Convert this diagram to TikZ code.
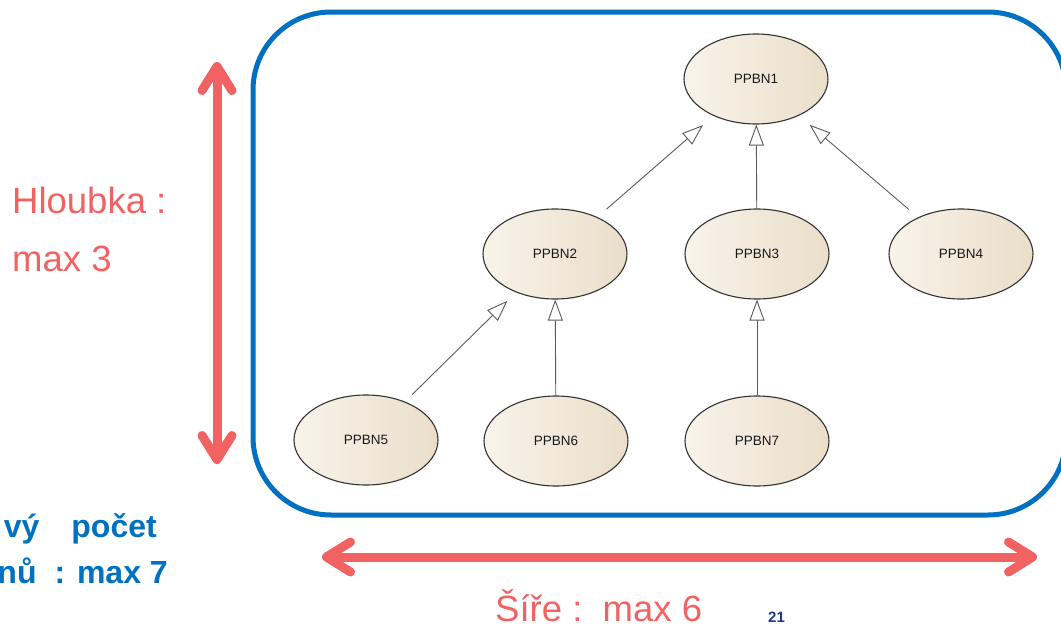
\documentclass[tikz,border=0pt]{standalone}
\usepackage{fontspec}
\setmainfont{Liberation Sans}
\usetikzlibrary{shapes.geometric,arrows.meta}
\definecolor{redc}{RGB}{242,98,98}
\definecolor{boxblue}{RGB}{0,112,192}
\definecolor{numblue}{RGB}{31,56,140}
\definecolor{ellA}{RGB}{248,243,234}
\definecolor{ellB}{RGB}{234,222,202}
\definecolor{ellD}{RGB}{50,50,50}
\begin{document}
\begin{tikzpicture}[x=1pt,y=-1pt,
  ppbn/.style={ellipse, draw=ellD, line width=1.1pt, left color=ellA, right color=ellB,
    minimum width=144pt, minimum height=90pt, inner sep=0pt,
    font=\fontsize{13.5}{15}\selectfont, text=black!90},
  gen/.style={draw=ellD!80, line width=0.9pt, -{Triangle[length=21pt,width=15pt,fill=white,line width=0.9pt]}},
  redarrow/.style={draw=redc, line width=9pt,
    {Straight Barb[length=24pt,width=30pt,round]}-{Straight Barb[length=24pt,width=30pt,round]}},
  redtext/.style={text=redc, inner sep=0pt, font=\fontsize{36.5}{40}\selectfont},
  bluetext/.style={text=boxblue, inner sep=0pt, font=\bfseries\fontsize{32}{36}\selectfont}]
\useasboundingbox (0,0) rectangle (1061,629);
\clip (0,0) rectangle (1061,629);

% blue frame
\draw[boxblue, line width=5pt, rounded corners=78pt] (253,12) rectangle (1066,515);

% nodes
\node[ppbn] (n1) at (756,79) {PPBN1};
\node[ppbn] (n2) at (555,254) {PPBN2};
\node[ppbn] (n3) at (757,254) {PPBN3};
\node[ppbn] (n4) at (961,254) {PPBN4};
\node[ppbn] (n5) at (366,440) {PPBN5};
\node[ppbn] (n6) at (556,441) {PPBN6};
\node[ppbn] (n7) at (757,441) {PPBN7};

% generalisation connectors
\draw[gen, shorten <=12pt, shorten >=14pt] (n2) -- (n1);
\draw[gen] (n3) -- (n1);
\draw[gen, shorten <=12pt, shorten >=14pt] (n4) -- (n1);
\draw[gen, shorten <=10pt, shorten >=12pt] (n5) -- (n2);
\draw[gen] (n6) -- (n2);
\draw[gen] (n7) -- (n3);

% red dimension arrows
\coordinate (vt) at (217,62);
\coordinate (vb) at (217,464);
\draw[redarrow] (vb) -- (vt);
\coordinate (hl) at (322,557);
\coordinate (hr) at (1037,557);
\draw[redarrow] (hl) -- (hr);

% texts
\node[redtext, anchor=base west] (hl1) at (12,213) {Hloubka :};
\node[redtext, anchor=base west] (hl2) at (12,271) {max 3};
\node[redtext, anchor=base west] (sire) at (495,621) {Šíře :\ \ max 6};
\node[text=numblue, inner sep=0pt, anchor=base west, font=\bfseries\fontsize{15}{18}\selectfont] (pg) at (768,622) {21};
\node[bluetext, anchor=base east] (c1) at (157,537) {vý\hspace{32pt}počet};
\node[bluetext, anchor=base east] (c2) at (168,583) {nů\hspace{18pt}: max 7};
\end{tikzpicture}
\end{document}
